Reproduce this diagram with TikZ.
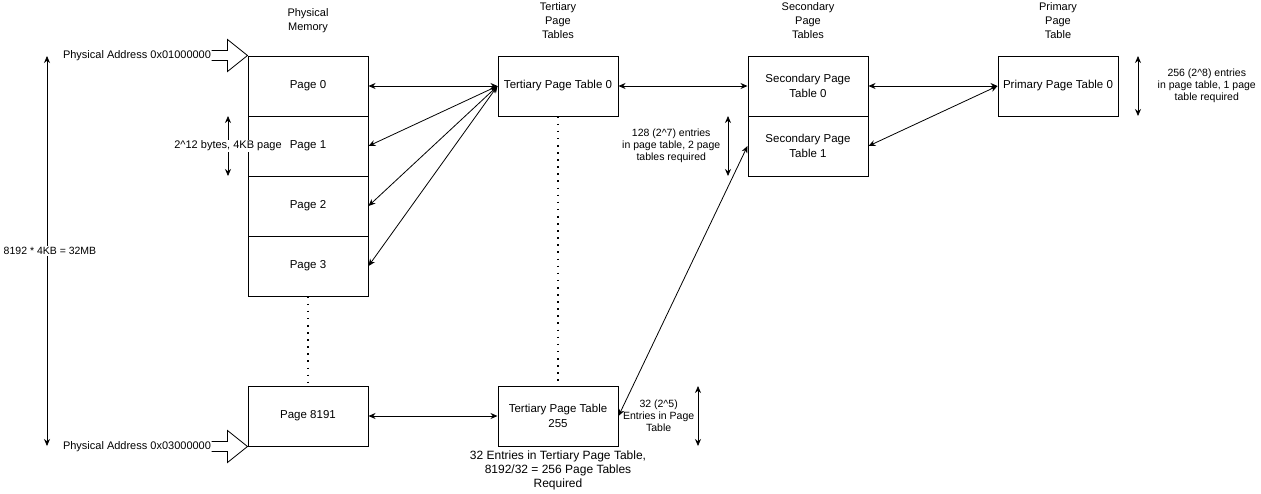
\documentclass[tikz,border=0pt]{standalone}
\usepackage{fontspec}
\setmainfont{Liberation Sans}
\usetikzlibrary{arrows.meta,positioning}

\begin{document}
\begin{tikzpicture}[
    x=1pt, y=-1pt,
    font=\fontsize{11}{13}\selectfont,
    >={Stealth[length=7pt,width=6pt]},
    line width=1pt,
    page/.style={draw, minimum width=120pt, minimum height=60pt, inner sep=2pt, align=center, font=\fontsize{11.5}{15}\selectfont},
    ptable/.style={page},
    head/.style={align=center, font=\fontsize{11}{14}\selectfont},
    note/.style={align=center, font=\fontsize{10.5}{12}\selectfont},
    link/.style={<->, line width=0.8pt},
    gap/.style={line width=1.6pt, dash pattern=on 1.6pt off 5.5pt},
    addrarrow/.pic={
        \draw[line width=0.8pt] (-36,-5) -- (-20,-5) -- (-20,-16) -- (0,0) -- (-20,16) -- (-20,5) -- (-36,5);
        \coordinate (-tail) at (-36,0);
    }
]
\useasboundingbox (0,0) rectangle (1261,493);

% column headings
\node[head] (memhead) at (308,21) {Physical\\Memory};
\node[head] (terthead) at (558,21) {Tertiary\\Page\\Tables};
\node[head] (sechead) at (808,21) {Secondary\\Page\\Tables};
\node[head] (primhead) at (1058,21) {Primary\\Page\\Table};

% physical memory
\node[page] (page0) at (308,86) {Page 0};
\node[page] (page1) at (308,146) {Page 1};
\node[page] (page2) at (308,206) {Page 2};
\node[page] (page3) at (308,266) {Page 3};
\node[page] (page8191) at (308,416) {Page 8191};
\draw[gap] (page3.south) -- (page8191.north);

% page tables
\node[ptable] (tert0) at (558,86) {Tertiary Page Table 0};
\node[ptable] (tert255) at (558,416) {Tertiary Page Table\\255};
\draw[gap] (tert0.south) -- (tert255.north);
\node[ptable] (sec0) at (808,86) {Secondary Page\\Table 0};
\node[ptable] (sec1) at (808,146) {Secondary Page\\Table 1};
\node[ptable] (prim0) at (1058,86) {Primary Page Table 0};

\draw[link] (page0) -- (tert0);
\draw[link] (tert0.west) -- (page1.east);
\draw[link] (tert0.west) -- (page2.east);
\draw[link] (tert0.west) -- (page3.east);
\draw[link] (page8191) -- (tert255);
\draw[link] (tert0) -- (sec0);
\draw[link] (tert255.east) -- (sec1.west);
\draw[link] (sec0) -- (prim0);
\draw[link] (sec1.east) -- (prim0.west);

% addresses
\pic (addrtop) at (page0.north west) {addrarrow};
\node[anchor=east, inner xsep=0pt] (addrtoptext) at (addrtop-tail) {Physical Address 0x01000000};
\pic (addrbot) at (page8191.south west) {addrarrow};
\node[anchor=east, inner xsep=0pt] (addrbottext) at (addrbot-tail) {Physical Address 0x03000000};

% sizes
\coordinate (memtop) at (47,56);
\coordinate (membot) at (47,446);
\draw[link] (memtop) -- node[fill=white, inner sep=1pt, xshift=3pt, font=\fontsize{10.5}{12}\selectfont] {8192 * 4KB = 32MB} (membot);

\coordinate (pgtop) at (228,116);
\coordinate (pgbot) at (228,176);
\draw[link] (pgtop) -- node[fill=white, inner sep=1pt] {2\textasciicircum{}12 bytes, 4KB page} (pgbot);

\coordinate (sectop) at (728,116);
\coordinate (secbot) at (728,176);
\draw[link] (sectop) -- node[note, left=4pt] {128 (2\textasciicircum{}7) entries\\in page table, 2 page\\tables required} (secbot);

\coordinate (primtop) at (1138,56);
\coordinate (primbot) at (1138,116);
\draw[link] (primtop) -- node[note, right=16pt] {256 (2\textasciicircum{}8) entries\\in page table, 1 page\\table required} (primbot);

\coordinate (terttop) at (698,386);
\coordinate (tertbot) at (698,446);
\draw[link] (terttop) -- node[note, left=0pt] {32 (2\textasciicircum{}5)\\Entries in Page\\Table} (tertbot);

\node[note, below=0pt of tert255, font=\fontsize{12}{14}\selectfont] (tertnote) {32 Entries in Tertiary Page Table,\\8192/32 = 256 Page Tables\\Required};
\end{tikzpicture}
\end{document}
